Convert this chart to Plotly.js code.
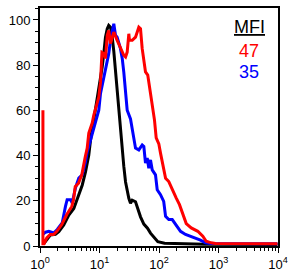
<!DOCTYPE html>
<html>
<head>
<meta charset="utf-8">
<script src="https://cdn.plot.ly/plotly-3.0.1.min.js"></script>
<style>html,body{margin:0;padding:0;background:#fff;}#chart{width:288px;height:271px;}</style>
</head>
<body>
<div id="chart"></div>
<script>
// Fluorescence intensity (x, log scale) and % of max (y)
var blackX = [1.145,1.50,1.82,2.07,2.51,3.05,3.70,4.22,5.12,5.82,6.61,7.06,8.02,9.15,10.4,11.1,11.8,12.6,13.5,14.3,15.3,16.3,17.4,18.6,19.8,21.1,22.5,24.1,25.6,27.4,29.2,31.1,33.2,35.5,40.3,43.0,45.8,48.9,55.6,64.1,72.0,84.0,95.5,124,582,9800];
var blackY = [0.9,4.9,5.2,6.3,9.3,13.7,16.6,21.1,26.9,32.8,40.2,46.8,55.6,64.5,73.3,79.2,85.1,92.4,96.1,97.6,96.8,92.7,86.1,77.3,67.1,57.8,48.6,41.5,35.3,28.3,24.0,21.1,18.9,20.3,19.6,17.4,15.1,12.9,9.7,7.9,5.7,3.4,1.9,1.2,0.75,0.7];

var blueX = [1.12,1.24,1.41,1.71,1.95,2.36,2.68,2.86,3.26,3.48,3.95,4.49,5.12,5.82,6.21,7.06,8.02,8.57,9.73,10.4,11.8,12.6,14.3,15.3,16.3,17.4,18.6,19.8,22.5,24.1,25.6,27.4,29.2,33.2,35.5,37.7,40.3,45.8,52.2,55.6,59.3,63.4,67.4,72.0,76.9,87.3,93.3,106,120,129,146,167,189,230,279,338,410,498,605,735,9800];
var blueY = [5.1,6.1,6.5,5.8,7.3,10.2,17.5,20.5,20.5,19.0,25.8,30.0,31.5,37.2,41.6,46.9,52.2,54.8,60.1,67.5,74.8,79.2,85.1,91.0,95.4,98.3,93.2,92.4,87.3,83.0,76.9,68.1,60.1,56.2,51.3,46.9,43.3,42.5,44.7,44.0,36.7,38.9,34.4,38.1,33.7,31.5,24.9,22.7,19.7,13.1,11.7,11.7,9.5,6.5,5.1,4.3,3.6,2.6,1.4,1.1,1.0];

var redX = [1.12,1.12,1.17,1.30,1.48,1.69,1.92,2.32,2.82,3.42,3.66,3.91,4.44,5.04,5.75,6.21,6.61,7.54,8.02,9.15,9.73,10.4,10.6,10.9,11.0,11.8,12.6,13.5,14.3,15.3,17.4,19.8,22.5,25.6,27.4,29.2,31.1,31.9,35.5,40.3,45.8,48.9,52.2,59.3,64.7,73.9,84.0,89.7,94.3,99.3,106,120,129,146,167,195,221,251,287,348,449,545,621,754,891,9800];
var redY = [60.1,1.0,1.0,3.6,5.1,5.1,6.5,9.5,13.9,17.5,20.5,26.2,27.8,31.5,39.4,43.3,50.0,54.4,57.9,63.2,65.9,72.5,77.8,82.2,85.7,85.2,83.0,93.2,95.4,89.6,94.6,91.0,87.3,84.4,83.6,85.8,93.9,91.0,91.0,92.4,96.8,96.1,87.3,77.0,75.6,65.9,55.7,47.8,46.0,45.2,41.1,33.7,30.0,28.5,24.9,21.2,18.3,13.9,9.9,8.0,6.5,4.3,2.1,1.4,1.1,1.0];

var xTickVals = [1, 10, 100, 1000, 10000];
var xTickText = ['10<sup>0</sup>', '10<sup>1</sup>', '10<sup>2</sup>', '10<sup>3</sup>', '10<sup>4</sup>'];
var yTickVals = [0, 20, 40, 60, 80, 100];

var mfiTitle = "MFI";
var mfiRed = "47";
var mfiBlue = "35";

var traces = [
  {x: blackX, y: blackY, mode: 'lines', line: {color: '#000000', width: 3}, hoverinfo: 'skip'},
  {x: blueX, y: blueY, mode: 'lines', line: {color: '#0000ff', width: 3}, hoverinfo: 'skip'},
  {x: redX, y: redY, mode: 'lines', line: {color: '#ff0000', width: 3}, hoverinfo: 'skip'}
];

var layout = {
  width: 288, height: 271,
  margin: {l: 40, r: 10, t: 8, b: 25, pad: 0},
  paper_bgcolor: '#fff', plot_bgcolor: '#fff',
  showlegend: false,
  font: {family: 'Liberation Sans, Arial, sans-serif', size: 13, color: '#000'},
  xaxis: {
    type: 'log', range: [0, 4], tickmode: 'array', tickvals: xTickVals, ticktext: xTickText,
    showgrid: false, zeroline: false,
    showline: true, linecolor: '#000', linewidth: 2, mirror: true,
    ticks: 'outside', ticklen: 5, tickwidth: 1, tickcolor: '#000',
    minor: {ticks: 'outside', ticklen: 3, tickwidth: 1, tickcolor: '#000', dtick: 'D1', showgrid: false},
    tickfont: {size: 13}
  },
  yaxis: {
    range: [0, 105.3], tickmode: 'array', tickvals: yTickVals,
    showgrid: false, zeroline: false,
    showline: true, linecolor: '#000', linewidth: 2, mirror: true,
    ticks: 'outside', ticklen: 5, tickwidth: 1, tickcolor: '#000',
    minor: {ticks: 'outside', ticklen: 3, tickwidth: 1, tickcolor: '#000', tickmode: 'linear', tick0: 0, dtick: 5, showgrid: false},
    tickfont: {size: 13}
  },
  annotations: [
    {xref: 'paper', yref: 'paper', x: 0.88, y: 0.92, text: '<u>' + mfiTitle + '</u>', showarrow: false, font: {size: 18, color: '#000'}, xanchor: 'center', yanchor: 'middle'},
    {xref: 'paper', yref: 'paper', x: 0.88, y: 0.82, text: mfiRed, showarrow: false, font: {size: 18, color: '#ff0000'}, xanchor: 'center', yanchor: 'middle'},
    {xref: 'paper', yref: 'paper', x: 0.88, y: 0.73, text: mfiBlue, showarrow: false, font: {size: 18, color: '#0000ff'}, xanchor: 'center', yanchor: 'middle'}
  ]
};

Plotly.newPlot('chart', traces, layout, {staticPlot: true, displayModeBar: false});
</script>
</body>
</html>
